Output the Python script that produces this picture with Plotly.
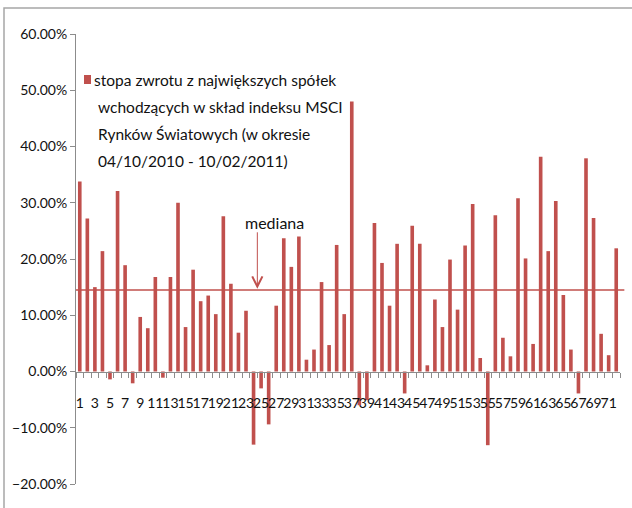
import plotly.graph_objects as go

# stopa zwrotu (%) dla 72 spolek
companies = list(range(1, 73))
returns_pct = [33.8, 27.2, 15.0, 21.4, -1.4, 32.1, 18.9, -2.1, 9.7, 7.7,
               16.8, -1.1, 16.8, 30.0, 7.9, 18.1, 12.5, 13.5, 10.2, 27.6,
               15.6, 6.9, 10.8, -13.0, -3.0, -9.4, 11.7, 23.7, 18.6, 24.0,
               2.1, 3.9, 15.9, 4.7, 22.5, 10.2, 48.0, -6.0, -5.1, 26.4,
               19.3, 11.7, 22.7, -3.9, 25.9, 22.7, 1.1, 12.8, 7.9, 19.9,
               11.0, 22.4, 29.8, 2.4, -13.1, 27.8, 6.0, 2.7, 30.8, 20.1,
               4.9, 38.2, 21.4, 30.3, 13.6, 3.9, -3.9, 37.9, 27.3, 6.7,
               2.9, 21.9]
median_pct = 14.5
legend_lines = ["stopa zwrotu z największych spółek",
                "wchodzących w skład indeksu MSCI",
                "Rynków Światowych (w okresie",
                "04/10/2010 - 10/02/2011)"]
x_labels = [str(i) for i in companies if i % 2 == 1]

RED = "#C0504D"
FONT = "Lato, Open Sans, sans-serif"

W, H = 632, 508
L, R, T, B = 76, 12, 34, 24
PW, PH = W - L - R, H - T - B

def px(x):
    return (x - L) / PW

def py(y):
    return (H - B - y) / PH

fig = go.Figure()
fig.add_trace(go.Bar(x=companies, y=[v / 100 for v in returns_pct],
                     marker_color=RED, marker_line_width=0, showlegend=False))

fig.update_layout(
    width=W, height=H, margin=dict(l=L, r=R, t=T, b=B),
    plot_bgcolor="white", paper_bgcolor="white",
    bargap=0.52,
    font=dict(family=FONT, size=14, color="#111"),
    xaxis=dict(range=[0.5, 72.5], anchor="free", position=0.25,
               showline=True, linecolor="#8c8c8c", linewidth=1,
               tickvals=[int(s) for s in x_labels], ticktext=x_labels,
               ticks="", ticklabelstandoff=19, tickangle=0,
               minor=dict(ticks="outside", tick0=0.5, dtick=1, ticklen=5,
                          tickcolor="#8c8c8c", showgrid=False),
               showgrid=False, zeroline=False,
               tickfont=dict(size=14)),
    yaxis=dict(range=[-0.2, 0.6], dtick=0.1, tickformat=".2%",
               showline=True, linecolor="#8c8c8c", linewidth=1,
               ticks="outside", ticklen=5, tickcolor="#8c8c8c",
               showgrid=False, zeroline=False, tickfont=dict(size=14)),
)

# mediana
fig.add_shape(type="line", xref="paper", yref="y", x0=0, x1=1.008,
              y0=median_pct / 100, y1=median_pct / 100,
              line=dict(color=RED, width=1.5))
fig.add_annotation(x=24.5, y=median_pct / 100 + 0.002, xref="x", yref="y",
                   text="", showarrow=True, ax=0, ay=-58,
                   arrowhead=5, arrowsize=2, arrowwidth=1, arrowcolor=RED)
fig.add_annotation(x=px(274), y=py(222), xref="paper", yref="paper",
                   text="mediana", showarrow=False, font=dict(size=16),
                   xanchor="center", yanchor="middle")

# legenda
fig.add_shape(type="rect", xref="paper", yref="paper",
              x0=px(84), x1=px(91), y0=py(84), y1=py(75),
              fillcolor=RED, line_width=0)
for i, line in enumerate(legend_lines):
    x0 = 92 if i == 0 else 96
    fig.add_annotation(x=px(x0), y=py(80 + 27 * i), xref="paper", yref="paper",
                       text=line, showarrow=False, xanchor="left",
                       yanchor="middle", font=dict(size=15.5))

# ramka wykresu
fig.add_shape(type="rect", xref="paper", yref="paper",
              x0=px(4), x1=px(660), y0=py(540), y1=py(8),
              line=dict(color="#a6a6a6", width=1.5), fillcolor="rgba(0,0,0,0)")

fig.write_html("out.html", config={"displayModeBar": False},
               post_script="document.body.style.margin='0';")
